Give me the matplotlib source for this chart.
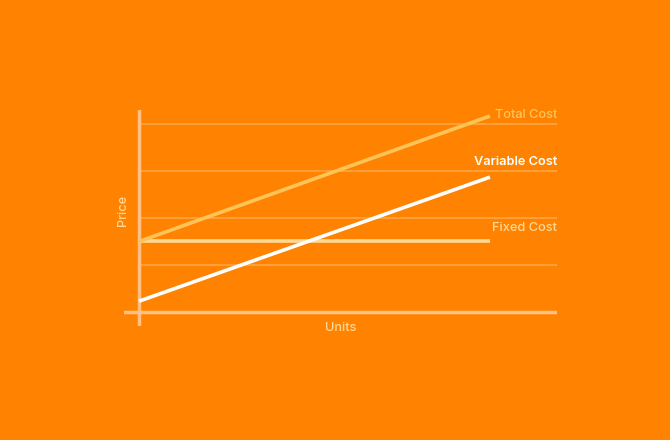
import matplotlib
matplotlib.use("Agg")
import matplotlib.pyplot as plt

units = [0, 10]
fixed_cost = [1.5, 1.5]
variable_cost = [0.23, 2.87]
total_cost = [1.5, 4.17]
grid_levels = [1, 2, 3, 4]

BG = "#FF8300"
plt.rcParams['font.family'] = ['Inter', 'DejaVu Sans']

fig = plt.figure(figsize=(6.7, 4.4), dpi=100, facecolor=BG)
W, H = 670, 440
ax = fig.add_axes([124 / W, 1 - 326 / H, (557 - 124) / W, (326 - 110) / H])
ax.set_facecolor(BG)
xmin, xmax = -0.427, 11.91
ax.set_xlim(xmin, xmax)
ax.set_ylim(-0.298, 4.298)
for s in ax.spines.values():
    s.set_visible(False)
ax.set_xticks([])
ax.set_yticks([])

ax.hlines(grid_levels, 0, xmax, color="#FFA545", lw=1.2, zorder=1)
ax.axhline(0, color="#FFC185", lw=2.5, zorder=2)
ax.axvline(0, color="#FFC185", lw=2.5, zorder=2)

ax.plot(units, fixed_cost, color="#FFD896", lw=2.6, solid_capstyle='butt', zorder=3)
ax.plot(units, total_cost, color="#FFC458", lw=2.6, solid_capstyle='butt', zorder=3)
ax.plot(units, variable_cost, color="#FFFFFF", lw=2.6, solid_capstyle='butt', zorder=4)

fs = 9.2
ax.text(xmax, 4.2, "Total Cost", color="#FFC458", fontsize=fs, ha="right", va="center",
        fontweight="medium")
ax.text(xmax, 3.2, "Variable Cost", color="#FFFFFF", fontsize=fs, ha="right", va="center",
        fontweight="semibold")
ax.text(xmax, 1.78, "Fixed Cost", color="#FFD896", fontsize=fs, ha="right", va="center",
        fontweight="medium")

fig.text(123 / W, 1 - 210 / H, "Price", color="#FFD896", fontsize=fs, rotation=90,
         ha="center", va="center", fontweight="medium")
fig.text(341 / W, 1 - 328 / H, "Units", color="#FFD896", fontsize=fs, ha="center", va="center",
         fontweight="medium")

fig.savefig("out.png", dpi=100, facecolor=BG)
